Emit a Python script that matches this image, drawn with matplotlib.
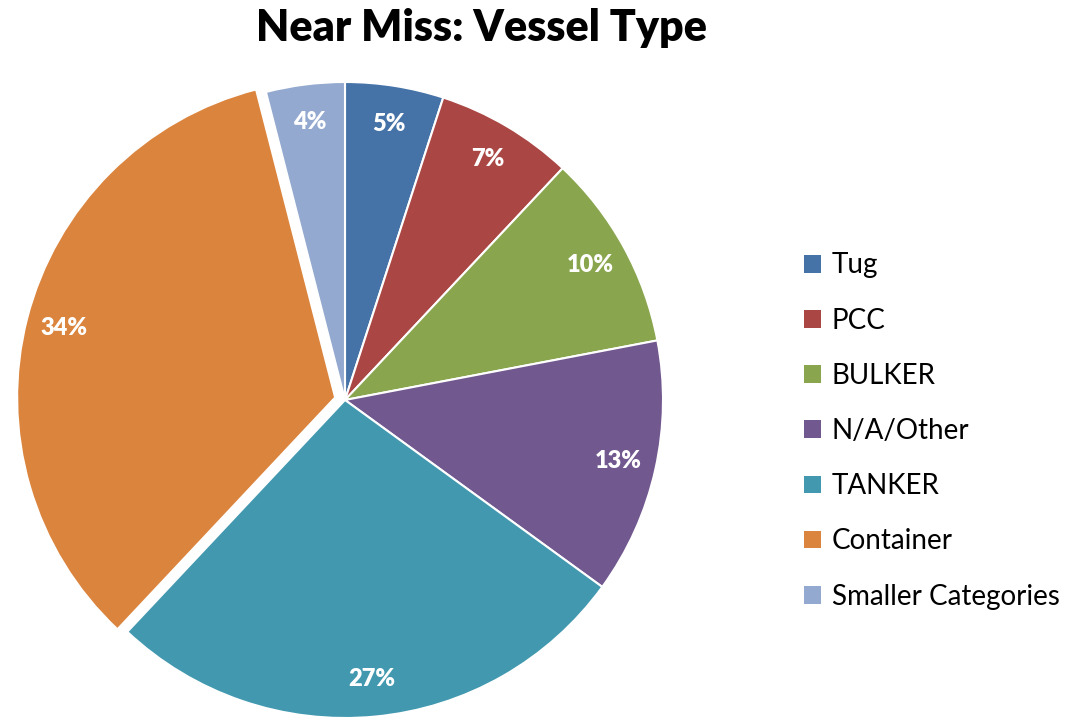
import matplotlib.pyplot as plt
from matplotlib.patches import Patch

plt.rcParams['font.family'] = ['Lato', 'DejaVu Sans']

# vessel types and their share of near misses (%)
labels = ["Tug", "PCC", "BULKER", "N/A/Other", "TANKER", "Container", "Smaller Categories"]
shares = [5, 7, 10, 13, 27, 34, 4]
colors = ["#4572A7", "#AA4643", "#89A54E", "#71588F", "#4198AF", "#DB843D", "#93A9CF"]
explode = [0, 0, 0, 0, 0, 0.032, 0]

fig = plt.figure(figsize=(10.73, 7.24), dpi=100)
# pie centred near (345, 400) px with radius ~318 px
ax = fig.add_axes([27 / 1073, 6 / 724, 636 / 1073, 636 / 724])

wedges, texts, autotexts = ax.pie(
    shares, colors=colors, explode=explode, startangle=90, counterclock=False,
    autopct="%d%%", pctdistance=0.88,
    wedgeprops=dict(edgecolor="white", linewidth=1.5),
    textprops=dict(color="white", fontsize=17, fontweight="heavy"),
)
ax.set_xlim(-1, 1)
ax.set_ylim(-1, 1)
ax.set_aspect("equal")
ax.axis("off")

fig.text(482 / 1073, 1 - 28 / 724, "Near Miss: Vessel Type", ha="center", va="center",
         fontsize=31, fontweight="heavy")

handles = [Patch(facecolor=c, edgecolor="none") for c in colors]
fig.legend(handles, labels, loc="center left", bbox_to_anchor=(790 / 1073, 1 - 431 / 724),
           frameon=False, fontsize=20, handlelength=0.6, handleheight=0.6,
           handletextpad=0.4, labelspacing=1.05, borderpad=0)

fig.savefig("out.png", dpi=100)
